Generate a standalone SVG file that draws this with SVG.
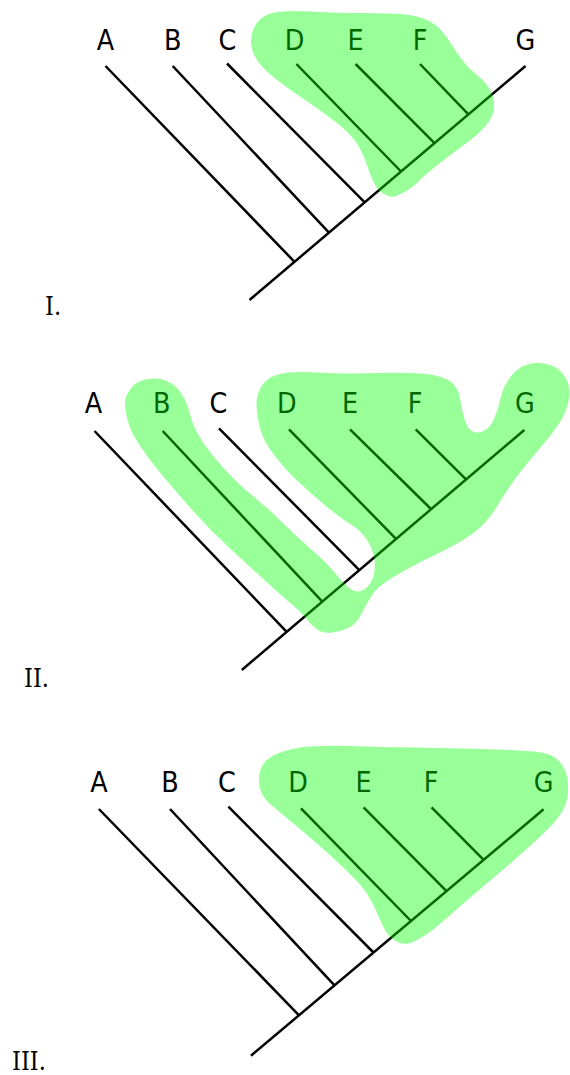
<svg xmlns="http://www.w3.org/2000/svg" width="570" height="1075" viewBox="0 0 570 1075">
<style>
.bg{fill:#ffffff}
.ln{stroke:#000;stroke-width:2.5;fill:none;stroke-linecap:butt}
.lb{font-family:"DejaVu Sans","Verdana",sans-serif;font-size:25.5px;fill:#000;text-anchor:middle}
.num{font-family:"DejaVu Serif","Liberation Serif",serif;font-size:22.5px;fill:#000}
.blob{fill:#00ff00;fill-opacity:0.4;stroke:none}
</style>
<rect class="bg" x="0" y="0" width="570" height="1075"/>

<!-- Panel I -->
<g id="panel1">
  <g id="p1-connectors">
    <line class="ln" x1="249.5" y1="300" x2="525.5" y2="66"/>
    <line class="ln" x1="105.5" y1="66" x2="294.5" y2="261.8"/>
    <line class="ln" x1="172.7" y1="66" x2="329" y2="232.6"/>
    <line class="ln" x1="227" y1="63.5" x2="364.7" y2="202.3"/>
    <line class="ln" x1="296.4" y1="64" x2="401" y2="171.5"/>
    <line class="ln" x1="355.6" y1="64" x2="434.5" y2="143.2"/>
    <line class="ln" x1="420" y1="64" x2="468.4" y2="114.4"/>
  </g>
  <g id="p1-A"><text class="lb" transform="translate(105.5,50) scale(1,1.08)">A</text></g>
  <g id="p1-B"><text class="lb" transform="translate(172.7,50) scale(1,1.08)">B</text></g>
  <g id="p1-C"><text class="lb" transform="translate(227.5,50) scale(1,1.08)">C</text></g>
  <g id="p1-D"><text class="lb" transform="translate(294.5,50) scale(1,1.08)">D</text></g>
  <g id="p1-E"><text class="lb" transform="translate(355.6,50) scale(1,1.08)">E</text></g>
  <g id="p1-F"><text class="lb" transform="translate(420,50) scale(1,1.08)">F</text></g>
  <g id="p1-G"><text class="lb" transform="translate(525.5,50) scale(1,1.08)">G</text></g>
  <path id="p1-blob" class="blob" d="M252.5,51 Q249,40 253.5,29 Q258,18 269,14 Q280,10 310,11.5 Q340,13 365,13 Q390,13 405,14.5 Q420,16 430,21.5 Q440,27 446.5,37 Q453,47 460,57 Q467,67 477,75 Q487,83 491,91.5 Q495,100 494,108.5 Q493,117 486.5,125 Q480,133 466.5,143 Q453,153 440,163 Q427,173 418.5,181.5 Q410,190 401.5,193.5 Q393,199 386.5,195 Q380,193 376,186.5 Q372,180 367.5,166.5 Q363,153 356.5,143 Q350,133 335,121.5 Q320,110 300,96.5 Q280,83 268,72.5 Q256,62 252.5,51 Z"/>
  <text id="p1-label" class="num" transform="translate(45,315) scale(1,1.14)">I.</text>
</g>

<!-- Panel II -->
<g id="panel2">
  <g id="p2-connectors">
    <line class="ln" x1="241.8" y1="670" x2="524.3" y2="430"/>
    <line class="ln" x1="94.5" y1="431" x2="286.7" y2="631.9"/>
    <line class="ln" x1="162.7" y1="431" x2="322.3" y2="601.6"/>
    <line class="ln" x1="219" y1="428.3" x2="359.3" y2="570.1"/>
    <line class="ln" x1="289" y1="429.3" x2="396" y2="538.9"/>
    <line class="ln" x1="350" y1="429.3" x2="431" y2="509"/>
    <line class="ln" x1="415.7" y1="429.3" x2="466" y2="479.4"/>
  </g>
  <g id="p2-A"><text class="lb" transform="translate(93.5,413) scale(1,1.08)">A</text></g>
  <g id="p2-B"><text class="lb" transform="translate(161.7,413) scale(1,1.08)">B</text></g>
  <g id="p2-C"><text class="lb" transform="translate(218.3,413) scale(1,1.08)">C</text></g>
  <g id="p2-D"><text class="lb" transform="translate(286.7,413) scale(1,1.08)">D</text></g>
  <g id="p2-E"><text class="lb" transform="translate(350,413) scale(1,1.08)">E</text></g>
  <g id="p2-F"><text class="lb" transform="translate(415,413) scale(1,1.08)">F</text></g>
  <g id="p2-G"><text class="lb" transform="translate(525,413) scale(1,1.08)">G</text></g>
  <path id="p2-blob" class="blob" d="M127.5,420 Q125,410 125,403 Q125,396 131.5,387.5 Q138,379 153,378.5 Q168,378 177,388 Q186,398 189.5,412.5 Q193,427 201.5,440 Q210,453 223.5,468 Q237,483 253.5,496.5 Q270,510 283.5,523.5 Q297,537 312,550 Q327,563 335,573 Q343,583 350,588.5 Q357,594 364,589.5 Q371,585 373.5,576 Q376,567 374,557 Q372,547 366,538.5 Q360,530 351.5,525 Q343,520 326.5,506.5 Q310,493 296.5,480 Q283,467 273,453.5 Q263,440 260,428.5 Q257,417 256.5,406.5 Q256,396 261,387 Q266,378 278,374.5 Q290,371 316.5,372.5 Q343,374 376.5,373 Q410,372 426.5,374 Q443,376 450.5,381.5 Q458,387 460,398.5 Q462,410 464.5,419 Q467,428 472,431 Q477,434 483.5,431 Q490,428 494,419 Q498,410 500.5,398.5 Q503,387 510,377.5 Q517,368 527,364.5 Q537,361 548.5,364.5 Q560,368 565.5,377.5 Q571,387 569,399.5 Q567,412 558.5,424.5 Q550,437 538.5,450 Q527,463 517,476.5 Q507,490 497,506.5 Q487,523 473.5,533 Q460,543 435,555 Q410,567 393.5,577 Q377,587 372,595 Q367,603 362,613 Q357,623 350,627 Q343,631 333,632.5 Q323,634 316.5,629 Q310,624 306,618.5 Q302,613 292.5,605 Q283,597 266.5,582 Q250,567 230,548.5 Q210,530 193.5,511.5 Q177,493 162,475 Q147,457 138.5,443.5 Q130,430 127.5,420 Z"/>
  <text id="p2-label" class="num" transform="translate(24,687) scale(1,1.16)">II.</text>
</g>

<!-- Panel III -->
<g id="panel3">
  <g id="p3-connectors">
    <line class="ln" x1="251" y1="1055.7" x2="543.6" y2="809.3"/>
    <line class="ln" x1="98.9" y1="809" x2="299" y2="1015.3"/>
    <line class="ln" x1="170" y1="809" x2="334.5" y2="985.4"/>
    <line class="ln" x1="228.4" y1="806.7" x2="373.5" y2="952.5"/>
    <line class="ln" x1="301" y1="808.3" x2="411" y2="921"/>
    <line class="ln" x1="363.6" y1="807.3" x2="446.5" y2="891.1"/>
    <line class="ln" x1="431.6" y1="807.3" x2="483.6" y2="859.8"/>
  </g>
  <g id="p3-A"><text class="lb" transform="translate(98.9,792) scale(1,1.08)">A</text></g>
  <g id="p3-B"><text class="lb" transform="translate(170,792) scale(1,1.08)">B</text></g>
  <g id="p3-C"><text class="lb" transform="translate(227,792) scale(1,1.08)">C</text></g>
  <g id="p3-D"><text class="lb" transform="translate(298,792) scale(1,1.08)">D</text></g>
  <g id="p3-E"><text class="lb" transform="translate(363.6,792) scale(1,1.08)">E</text></g>
  <g id="p3-F"><text class="lb" transform="translate(431,792) scale(1,1.08)">F</text></g>
  <g id="p3-G"><text class="lb" transform="translate(543.6,792) scale(1,1.08)">G</text></g>
  <path id="p3-blob" class="blob" d="M260,788.5 Q258,780 260,771 Q262,762 272.5,756 Q283,750 300,747.5 Q317,745 350,746 Q383,747 416.5,747.5 Q450,748 483.5,749 Q517,750 534.5,751.5 Q552,753 559.5,761.5 Q567,770 568,783.5 Q569,797 564.5,807 Q560,817 548.5,828.5 Q537,840 520,855 Q503,870 485,885 Q467,900 452,913.5 Q437,927 427,934 Q417,941 410,943 Q403,945 396.5,941.5 Q390,938 386.5,932.5 Q383,927 378,915 Q373,903 366.5,893 Q360,883 338.5,863 Q317,843 297,826.5 Q277,810 269.5,803.5 Q262,797 260,788.5 Z"/>
  <text id="p3-label" class="num" transform="translate(12,1070) scale(1,1.12)">III.</text>
</g>
</svg>
